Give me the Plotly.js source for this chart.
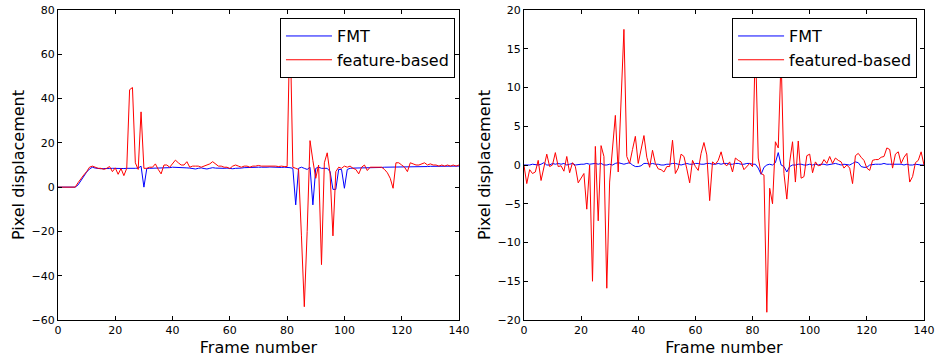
<!DOCTYPE html>
<html>
<head>
<meta charset="utf-8">
<script src="https://cdn.plot.ly/plotly-3.0.1.min.js"></script>
<style>html,body{margin:0;padding:0;background:#fff;}#chart{width:937px;height:358px;}</style>
</head>
<body>
<div id="chart"></div>
<script>
// Frame numbers 0..140
const frames = Array.from({length: 141}, (_, i) => i);

// Left panel: FMT
const leftFMT = [
  0, 0, 0, 0, 0, 0, 0, 1, 3, 5,
  6.8, 8.2, 9, 8.6, 8.4, 8.3, 8.4, 8.3, 8.4, 8.5,
  8.4, 8.4, 8.3, 8.4, 8.5, 8.4, 8.4, 8.5, 8.6, 9.5,
  0, 8.4, 8.5, 8.5, 8.6, 8.5, 8.6, 8.7, 8.8, 8.8,
  9, 9, 9, 8.9, 8.8, 8.7, 8.6, 8.3, 8.2, 8.5,
  8.7, 8.4, 8.2, 8.5, 8.8, 8.6, 8.5, 8.4, 8.5, 8.6,
  8.4, 8.3, 8.5, 8.4, 8.6, 8.8, 8.9, 9, 9, 9.1,
  9, 9, 8.9, 9, 9.1, 9, 9, 8.9, 8.9, 9,
  9, 8.8, 8.5, -8, 8.5, 9, 8.5, 8, 9, -8,
  8.5, 9, 8.5, 8.5, 8.5, 7, -1, -1, 8, 8,
  -0.5, 8, 8.5, 8.6, 8.6, 8.7, 8.7, 8.8, 8.8, 8.8,
  8.8, 8.9, 8.9, 8.9, 9, 9, 9, 9, 9, 9,
  9.1, 9.1, 9.1, 9.2, 9.2, 9.2, 9.3, 9.3, 9.3, 9.3,
  9.4, 9.4, 9.4, 9.4, 9.5, 9.5, 9.5, 9.5, 9.5, 9.5,
  9.5
];

// Left panel: feature-based
const leftFeature = [
  0, 0, 0, 0, 0, 0, 0, 2, 4, 5.5,
  7, 9, 9.5, 9, 8.5, 8.5, 8, 8.5, 9.3, 7,
  8.7, 5.8, 8.4, 5.2, 8.5, 44, 45, 11, 8, 34,
  8.5, 8.5, 9, 9, 10.5, 8, 6, 10, 10, 9,
  10.8, 12.2, 11, 10, 10, 11.5, 9, 9.5, 9.5, 9.5,
  9, 9.5, 10, 10.5, 11.5, 10.5, 9.5, 9.5, 9, 9,
  8.4, 9.5, 10, 9.5, 9, 9.5, 9.5, 9, 9.5, 9.5,
  9.8, 9.5, 9.5, 9.8, 9.5, 9.5, 9.5, 9.3, 9.5, 9.3,
  9.3, 75, 9, 8.5, 8, -22, -54, -20, 21, 12,
  4, 10, -35, 11, 15.5, 6, -22, 7, 9, 8.5,
  9.5, 9, 9.5, 8.5, 8, 6, 9, 10, 7.5, 9,
  9, 9, 9, 9, 8, 6.5, 4, -0.5, 11, 11,
  10, 9, 7, 11, 10.5, 10, 10, 10.5, 11, 10,
  10.5, 10, 10, 9.5, 10, 9.5, 10, 9.5, 10, 9.5,
  10
];

// Right panel: FMT
const rightFMT = [
  0, 0, 0, 0.1, 0, 0, 0.1, 0.3, 0, 0,
  0.2, 0.1, 0.2, 0.1, 0.2, 0, 0.1, 0.2, 0, 0.1,
  0.1, 0.1, 0.2, 0.1, 0.2, 0.2, 0.1, 0.2, 0, 0,
  0.1, 0, 0.2, 0.3, 0.2, 0.1, 0.2, 0.3, 0, -0.2,
  -0.2, -0.1, 0.2, 0.2, 0.1, 0.2, 0.1, 0.1, 0, 0,
  0.1, 0.1, 0.2, 0.2, 0.1, 0, 0.1, 0.2, 0.1, 0.1,
  0.2, 0.2, 0.1, 0.1, 0.2, 0.2, 0.1, 0.1, 0.2, 0.1,
  0.2, 0.2, 0.1, 0.1, 0.2, 0.2, 0.1, 0.1, 0.2, 0.2,
  0.1, 0.1, -0.4, -1.2, -0.3, 0, 0.1, 0, 0.3, 1.6,
  0, -0.2, -0.9, -0.2, 0, 0, 0.1, 0.1, 0, 0,
  0.1, 0, 0.1, 0, 0.1, 0.1, 0, 0.1, 0.1, 0.2,
  0.1, 0, 0.1, 0, 0, 0.2, 0.4, 0.3, -0.2, -0.3,
  -0.3, 0, 0.1, 0.1, 0.1, 0.1, 0.2, 0.1, 0.1, 0.1,
  0.1, 0.1, 0.1, 0, 0.1, 0, 0, 0.1, 0, 0,
  0
];

// Right panel: featured-based
const rightFeature = [
  0, -2.4, -0.6, -1.1, -0.9, 0.6, -2.0, -0.2, 1.4, -0.2,
  0, 1.6, -0.2, -0.1, -0.8, 1.1, -1.0, 0.3, -0.2, -2.3,
  -1.6, -1.1, -5.7, 0, -15, 2.4, -7.2, 2.5, 1.1, -15.9,
  -2.2, 2, 6.4, -0.9, 8, 17.5, 1.1, 0.2, 2, 3.7,
  0.2, 2, 3.8, 1, -0.3, 1.9, 0.2, -0.5, -0.6, -0.9,
  -0.2, -0.2, 3.2, -1.1, -0.4, 1.4, 1.1, -0.5, -2.3, 0.6,
  -0.2, -0.7, 1.5, 2.9, 1.3, -4.6, 0.4, 0.1, 0.6, 1.7,
  0.2, -0.1, 0.4, -0.9, 0.9, 0.6, 0.4, -0.6, -0.2, 0.2,
  -0.2, 16, 0.9, -1.1, -1.3, -19, -3, -5, 3, 2.2,
  14, -1.1, -4.4, 0.4, 3.0, -2.2, 3.1, -1.7, -1.5, 1.2,
  1.4, -1.0, 0.4, -0.1, 0, 0.7, 0.2, 1.1, 0.2, 0.9,
  0.6, 0.4, -0.4, 0, -0.4, -2.4, 1.2, 1.5, 1.0, 0.6,
  -0.4, -0.7, 0.6, 0.7, 0.7, 1.0, 1.1, 2.2, 2.0, -0.4,
  1.4, 1.7, 0.2, 1.0, 1.5, -2.2, -1.5, 0.3, 0.6, 1.7,
  0
];

const seriesNames = ['FMT', 'feature-based', 'featured-based'];
const xTicks = [0, 20, 40, 60, 80, 100, 120, 140];
const leftYTicks = [-60, -40, -20, 0, 20, 40, 60, 80];
const rightYTicks = [-20, -15, -10, -5, 0, 5, 10, 15, 20];

const FONT = 'DejaVu Sans, sans-serif';

const traces = [
  {x: frames, y: leftFMT, type: 'scatter', mode: 'lines', name: seriesNames[0],
   line: {color: '#0000ff', width: 1}, xaxis: 'x', yaxis: 'y', legend: 'legend'},
  {x: frames, y: leftFeature, type: 'scatter', mode: 'lines', name: seriesNames[1],
   line: {color: '#ff0000', width: 1}, xaxis: 'x', yaxis: 'y', legend: 'legend'},
  {x: frames, y: rightFMT, type: 'scatter', mode: 'lines', name: seriesNames[0],
   line: {color: '#0000ff', width: 1}, xaxis: 'x2', yaxis: 'y2', legend: 'legend2'},
  {x: frames, y: rightFeature, type: 'scatter', mode: 'lines', name: seriesNames[2],
   line: {color: '#ff0000', width: 1}, xaxis: 'x2', yaxis: 'y2', legend: 'legend2'}
];

function xAxis(domain, anchor) {
  return {
    domain: domain, anchor: anchor, range: [0, 140],
    tickmode: 'array', tickvals: xTicks, ticktext: xTicks.map(String),
    ticks: 'inside', ticklen: 4, tickcolor: '#000', tickwidth: 1,
    showline: true, linecolor: '#000', linewidth: 1, mirror: 'ticks',
    showgrid: false, zeroline: false,
    tickfont: {family: FONT, size: 11, color: '#000'},
    title: {text: 'Frame number', font: {family: FONT, size: 16, color: '#000'}, standoff: 5}
  };
}
function yAxis(anchor, range, ticks) {
  return {
    anchor: anchor, range: range, domain: [0, 1],
    tickmode: 'array', tickvals: ticks, ticktext: ticks.map(v => v < 0 ? '\u2212' + Math.abs(v) : String(v)),
    ticks: 'inside', ticklen: 4, tickcolor: '#000', tickwidth: 1,
    showline: true, linecolor: '#000', linewidth: 1, mirror: 'ticks',
    showgrid: false, zeroline: false,
    tickfont: {family: FONT, size: 11, color: '#000'},
    title: {text: 'Pixel displacement', font: {family: FONT, size: 16, color: '#000'}, standoff: 2}
  };
}

const legendStyle = {
  yanchor: 'top', xanchor: 'right',
  bgcolor: '#fff', bordercolor: '#000', borderwidth: 1,
  font: {family: FONT, size: 16, color: '#000'}, itemwidth: 46, tracegroupgap: 0
};

const layout = {
  width: 937, height: 358,
  margin: {l: 58, r: 13, t: 10, b: 38},
  paper_bgcolor: '#fff', plot_bgcolor: '#fff',
  showlegend: true,
  xaxis: xAxis([0, 0.463], 'y'),
  yaxis: yAxis('x', [-60, 80], leftYTicks),
  xaxis2: xAxis([0.538, 1], 'y2'),
  yaxis2: yAxis('x2', [-20, 20], rightYTicks),
  legend: Object.assign({x: 0.4584, y: 0.974}, legendStyle),
  legend2: Object.assign({x: 0.992, y: 0.974}, legendStyle)
};

Plotly.newPlot('chart', traces, layout, {displayModeBar: false, staticPlot: true});
</script>
</body>
</html>
